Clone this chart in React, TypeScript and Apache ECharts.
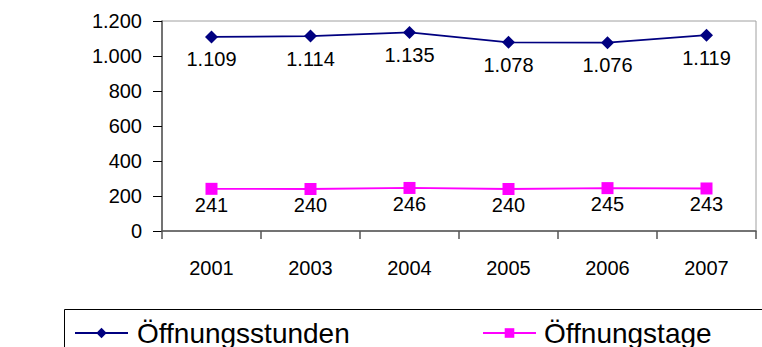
import React, { useEffect, useRef } from "react";
import * as echarts from "echarts";

const years = ["2001", "2003", "2004", "2005", "2006", "2007"];
const stunden = [1109, 1114, 1135, 1078, 1076, 1119];
const tage = [241, 240, 246, 240, 245, 243];
const seriesNames = ["Öffnungsstunden", "Öffnungstage"];

const FONT = "'Liberation Sans', Arial, sans-serif";
const fmt = (v: number) => String(v).replace(/\B(?=(\d{3})+(?!\d))/g, ".");

export default function App() {
  const ref = useRef<HTMLDivElement>(null);
  useEffect(() => {
    const chart = echarts.init(ref.current!, null, { renderer: "svg" });
    chart.setOption({
      animation: false,
      backgroundColor: "#ffffff",
      textStyle: { fontFamily: FONT },
      grid: {
        left: 162,
        right: 6,
        top: 21,
        bottom: 116,
        show: true,
        borderColor: "#a0a0a0",
        borderWidth: 1,
      },
      xAxis: {
        type: "category",
        data: years,
        boundaryGap: true,
        axisLine: { lineStyle: { color: "#555555", width: 1.5 } },
        axisTick: { show: true, length: 8, lineStyle: { color: "#555555", width: 1.5 } },
        axisLabel: { color: "#000", fontSize: 20, fontFamily: FONT, margin: 27 },
        splitLine: { show: false },
      },
      yAxis: {
        type: "value",
        min: 0,
        max: 1200,
        interval: 200,
        axisLine: { show: true, lineStyle: { color: "#555555", width: 1.5 } },
        axisTick: { show: true, length: 9, lineStyle: { color: "#000", width: 1 } },
        axisLabel: {
          color: "#000",
          fontSize: 20,
          fontFamily: FONT,
          margin: 20,
          formatter: (v: number) => fmt(v),
        },
        splitLine: { show: false },
      },
      legend: [
        {
          data: [seriesNames[0]],
          left: 74,
          top: 319,
          padding: 0,
          itemWidth: 53,
          itemHeight: 13,
          textStyle: { fontSize: 28, fontFamily: FONT, color: "#000", padding: [0, 0, 0, 4] },
        },
        {
          data: [seriesNames[1]],
          left: 482,
          top: 319,
          padding: 0,
          itemWidth: 53,
          itemHeight: 12,
          textStyle: { fontSize: 28, fontFamily: FONT, color: "#000", padding: [0, 0, 0, 3] },
        },
      ],
      graphic: [
        {
          type: "rect",
          shape: { x: 64.5, y: 309.5, width: 720, height: 60 },
          style: { fill: "none", stroke: "#000", lineWidth: 1 },
          silent: true,
        },
      ],
      series: [
        {
          name: seriesNames[0],
          type: "line",
          data: stunden,
          symbol: "diamond",
          symbolSize: 13,
          itemStyle: { color: "#000080" },
          lineStyle: { color: "#000080", width: 1.8 },
          label: {
            show: true,
            position: "bottom",
            distance: 6,
            color: "#000",
            fontSize: 20,
            fontFamily: FONT,
            formatter: (p: any) => fmt(p.value),
          },
        },
        {
          name: seriesNames[1],
          type: "line",
          data: tage,
          symbol: "rect",
          symbolSize: 12,
          itemStyle: { color: "#ff00ff" },
          lineStyle: { color: "#ff00ff", width: 1.8 },
          label: {
            show: true,
            position: "bottom",
            distance: 0,
            color: "#000",
            fontSize: 20,
            fontFamily: FONT,
            formatter: (p: any) => fmt(p.value),
          },
        },
      ],
    });
    return () => chart.dispose();
  }, []);
  return (
    <div
      ref={ref}
      style={{ position: "fixed", left: 0, top: 0, width: 762, height: 347, background: "#fff" }}
    />
  );
}
